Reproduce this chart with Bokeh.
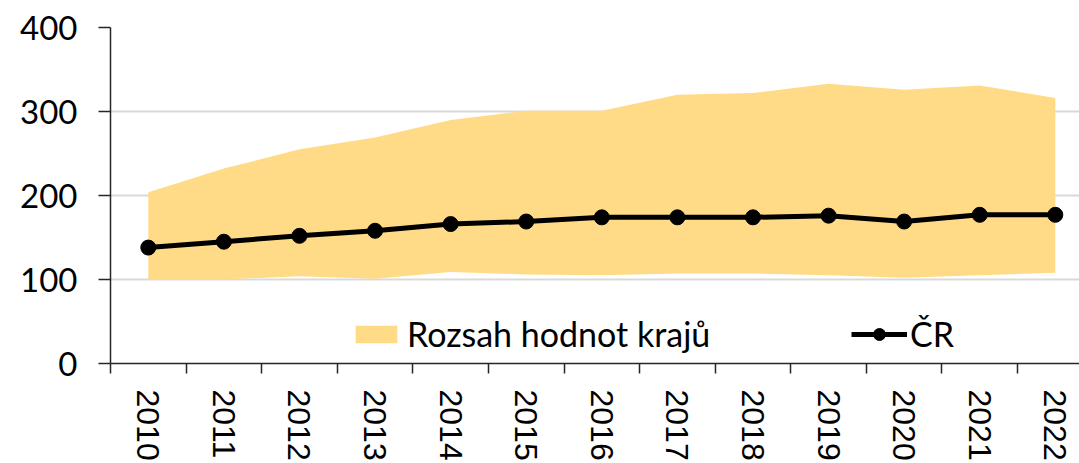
from bokeh.plotting import figure
from bokeh.models import Range1d, FixedTicker, Legend, LegendItem
from bokeh.embed import file_html
from bokeh.resources import INLINE

years = ["2010", "2011", "2012", "2013", "2014", "2015", "2016",
         "2017", "2018", "2019", "2020", "2021", "2022"]
range_upper = [204, 232, 255, 269, 290, 301, 301, 320, 322, 333, 326, 331, 316]
range_lower = [100, 100, 104, 101, 109, 106, 105, 107, 107, 105, 102, 105, 108]
cr_values = [138, 145, 152, 158, 166, 169, 174, 174, 174, 176, 169, 177, 177]
y_ticks = [0, 100, 200, 300, 400]

xs = list(range(len(years)))

p = figure(width=1079, height=463,
           x_range=Range1d(-0.5, 12.32), y_range=Range1d(0, 400),
           output_backend="svg", toolbar_location=None,
           min_border_left=110, min_border_right=0,
           min_border_top=27, min_border_bottom=97)
p.outline_line_color = None
p.background_fill_color = "white"
p.border_fill_color = "white"

area = p.varea(x=xs, y1=range_lower, y2=range_upper, fill_color="#FFDB87")
ln = p.line(x=xs, y=cr_values, line_color="black", line_width=5)
sc = p.scatter(x=xs, y=cr_values, size=15, marker="circle",
               fill_color="black", line_color="black")

# x axis
xa = p.xaxis[0]
xa.ticker = FixedTicker(ticks=xs, minor_ticks=[i - 0.5 for i in range(len(years))])
xa.major_label_overrides = {i: y for i, y in enumerate(years)}
xa.major_label_orientation = "vertical"
xa.major_tick_line_color = None
xa.major_tick_out = 10
xa.major_tick_in = 0
xa.minor_tick_out = 10
xa.minor_tick_in = 0
xa.minor_tick_line_color = "#262626"
xa.minor_tick_line_width = 1.5
xa.axis_line_color = "#262626"
xa.axis_line_width = 1.5
xa.major_label_standoff = 16
xa.major_label_text_font = "Liberation Sans"
xa.major_label_text_font_size = "32px"
xa.major_label_text_color = "black"

# y axis
ya = p.yaxis[0]
ya.ticker = FixedTicker(ticks=y_ticks, minor_ticks=[])
ya.major_tick_out = 12
ya.major_tick_in = 0
ya.major_tick_line_color = "#262626"
ya.major_tick_line_width = 1.5
ya.axis_line_color = "#262626"
ya.axis_line_width = 1.5
ya.major_label_standoff = 21
ya.major_label_text_font = "Lato"
ya.major_label_text_font_size = "33px"
ya.major_label_text_color = "black"

p.xgrid.grid_line_color = None
p.ygrid.ticker = FixedTicker(ticks=y_ticks[1:])
p.ygrid.grid_line_color = "#D9D9D9"
p.ygrid.grid_line_width = 2

def make_legend(items, loc, gw, gh, standoff):
    lg = Legend(items=items, location=loc, orientation="horizontal",
                glyph_width=gw, glyph_height=gh, label_standoff=standoff,
                padding=0, margin=0, border_line_color=None,
                background_fill_alpha=0, label_text_font="Lato",
                label_text_font_size="34px", label_text_color="black",
                label_text_baseline="middle")
    return lg

lg1 = make_legend([LegendItem(label="Rozsah hodnot krajů", renderers=[area])],
                  (240, 9), 52, 22, 5)
lg2 = make_legend([LegendItem(label="ČR", renderers=[ln, sc])],
                  (741, 9), 56, 30, 3)
p.add_layout(lg1)
p.add_layout(lg2)

open("out.html", "w").write(file_html(p, INLINE))
